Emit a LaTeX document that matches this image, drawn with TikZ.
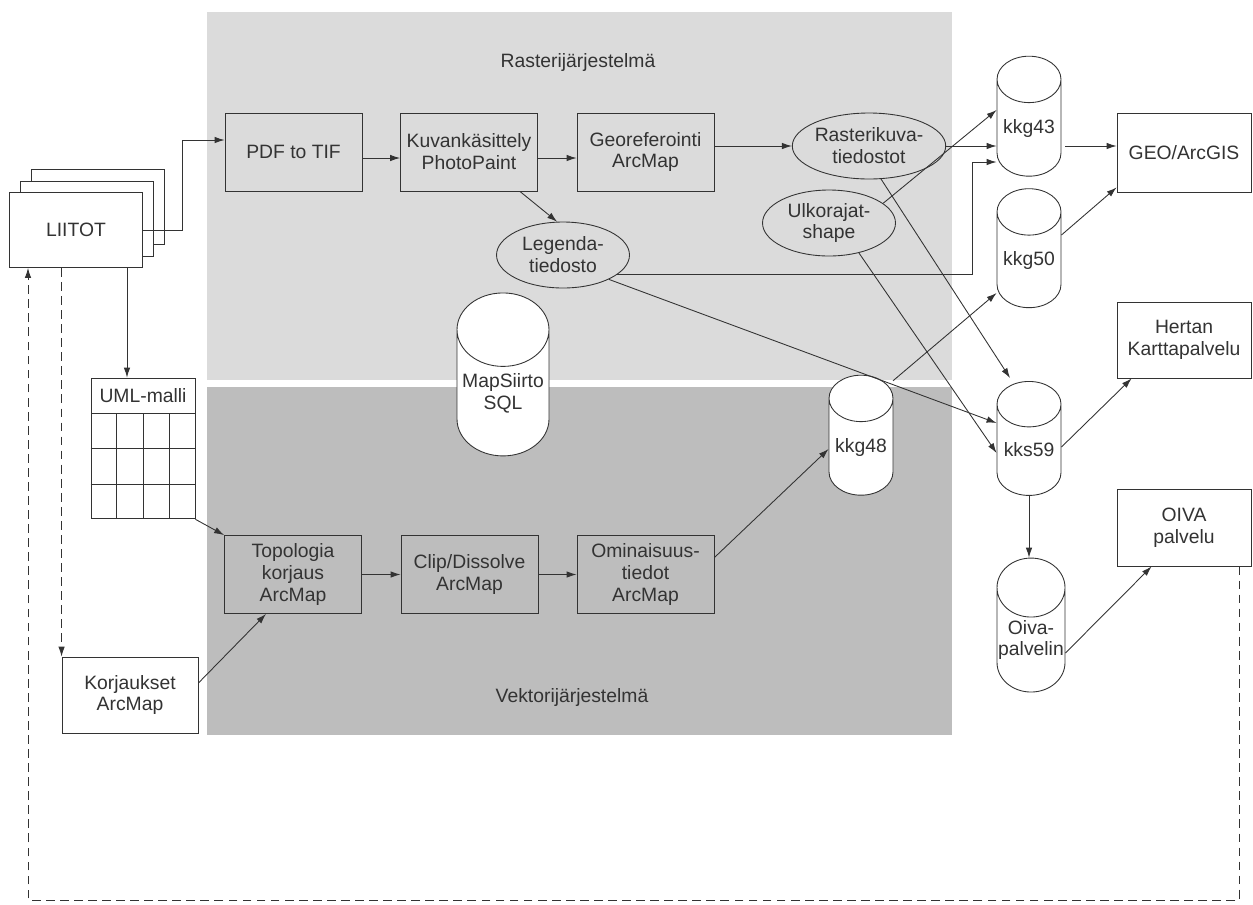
\documentclass[tikz,border=0pt]{standalone}
\usepackage{fontspec}
\setmainfont{Liberation Sans}
\usetikzlibrary{shapes.geometric, arrows.meta, calc}

\definecolor{rastgray}{gray}{0.86}
\definecolor{vectgray}{gray}{0.74}
\definecolor{ink}{gray}{0.2}

\tikzset{
  every node/.style={font=\fontsize{11}{12.5}\selectfont, text=ink},
  arr/.style={draw=ink, line width=0.5pt, -{Latex[length=2mm,width=1.3mm]}},
  dashline/.style={draw=ink, line width=0.6pt, dash pattern=on 5pt off 3pt},
  box/.style={draw=ink, line width=0.5pt, align=center, inner sep=0pt,
    minimum width=2.74cm, minimum height=1.56cm},
  wbox/.style={box, fill=white},
  oval/.style={draw=ink, line width=0.5pt, ellipse, align=center, inner sep=0pt,
    minimum width=2.66cm, minimum height=1.32cm},
  db/.style={cylinder, shape border rotate=90, aspect=0.9, draw=ink, line width=0.5pt,
    fill=white, align=center, inner sep=0pt, minimum width=1.28cm},
}

\begin{document}
\begin{tikzpicture}[x=0.02cm, y=-0.02cm]
  \useasboundingbox (0,0) rectangle (1253,904);

  % the two subsystems
  \fill[rastgray] (207,12) rectangle (952,380);
  \fill[vectgray] (207,387) rectangle (952,735);
  \node (rasthead) at (578,62) {Rasterijärjestelmä};
  \node (vecthead) at (572,697) {Vektorijärjestelmä};

  % source documents and model
  \node[wbox, minimum width=2.66cm, minimum height=1.5cm] (liitot3) at (98,207) {};
  \node[wbox, minimum width=2.66cm, minimum height=1.5cm] (liitot2) at (87,219) {};
  \node[wbox, minimum width=2.66cm, minimum height=1.5cm] (liitot) at (76,230) {LIITOT};
  \node[wbox, minimum width=2.08cm, minimum height=0.7cm] (uml) at (143,395.5) {UML-malli};
  \node[wbox, minimum width=2.08cm, minimum height=2.1cm, anchor=north] (umlgrid) at (uml.south) {};
  \foreach \i in {1,2,3}
    \draw[ink, line width=0.5pt] ($(umlgrid.north west)!\i/4!(umlgrid.north east)$)
      -- ($(umlgrid.south west)!\i/4!(umlgrid.south east)$);
  \foreach \i in {1,2}
    \draw[ink, line width=0.5pt] ($(umlgrid.north west)!\i/3!(umlgrid.south west)$)
      -- ($(umlgrid.north east)!\i/3!(umlgrid.south east)$);
  \node[wbox, minimum width=2.72cm, minimum height=1.52cm] (korj) at (130,695) {Korjaukset\\ArcMap};

  % raster side
  \node[box] (pdf) at (293.5,152) {PDF to TIF};
  \node[box] (kuva) at (469,152) {Kuvankäsittely\\PhotoPaint};
  \node[box] (georef) at (645.5,152) {Georeferointi\\ArcMap};
  \node[oval] (legenda) at (563,255) {Legenda-\\tiedosto};
  \node[oval] (rasteri) at (869,146) {Rasterikuva-\\tiedostot};
  \node[oval] (ulko) at (829,223) {Ulkorajat-\\shape};

  % vector side
  \node[db, minimum width=1.84cm, minimum height=3.26cm] (mapsiirto) at (503,393) {MapSiirto\\SQL};
  \node[box] (topo) at (293,574.5) {Topologia\\korjaus\\ArcMap};
  \node[box] (clip) at (469.5,574.5) {Clip/Dissolve\\ArcMap};
  \node[box] (omin) at (645.5,574.5) {Ominaisuus-\\tiedot\\ArcMap};
  \node[db, minimum height=2.4cm] (kkg48) at (861,447) {kkg48};

  % databases and services
  \node[db, minimum height=2.4cm] (kkg43) at (1029,128) {kkg43};
  \node[db, minimum height=2.38cm] (kkg50) at (1029,260) {kkg50};
  \node[db, minimum height=2.28cm] (kks59) at (1029,450) {kks59};
  \node[db, minimum width=1.36cm, minimum height=2.68cm] (oivapalvelin) at (1031,640) {Oiva-\\palvelin};
  \node[wbox, minimum width=2.68cm, minimum height=1.58cm] (arcgis) at (1184,152.5) {GEO/ArcGIS};
  \node[wbox, minimum width=2.68cm, minimum height=1.52cm] (hertan) at (1184,340) {Hertan\\Karttapalvelu};
  \node[wbox, minimum width=2.68cm, minimum height=1.54cm] (oiva) at (1184,527.5) {OIVA\\palvelu};

  % documents in
  \draw[arr] (liitot.east) -- ++(40,0) |- ($(pdf.west)+(0,-12)$);
  \coordinate (umlin) at ($(uml.north)+(-16,0)$);
  \draw[arr] (liitot.south -| umlin) -- (umlin);
  \draw[arr] (umlgrid.south east) -- (topo.north west);
  \draw[dashline, arr] (liitot.south -| korj.west) -- (korj.north west);

  % raster flow
  \draw[arr] ($(pdf.east)+(0,6)$) -- ($(kuva.west)+(0,6)$);
  \draw[arr] ($(kuva.east)+(0,6)$) -- ($(georef.west)+(0,6)$);
  \draw[arr] (rasteri.west -| georef.east) -- (rasteri.west);
  \draw[arr] ($(kuva.south east)+(-18,0)$) -- (legenda.100);
  \draw[arr] (rasteri.east) -- (rasteri.east -| kkg43.west);
  \draw[arr] (rasteri.-70) -- ($(kks59.north)+(-19,-3)$);
  \draw[arr] (ulko.20) -- ($(kkg43.west)+(0,-18)$);
  \draw[arr] (ulko.-45) -- ($(kks59.west)+(0,3)$);
  \draw[arr] (legenda.-20) -| ($(kkg43.west)+(-24,34)$) -- ($(kkg43.west)+(0,34)$);
  \draw[arr] (legenda.-28) -- ($(kks59.west)+(0,-27)$);

  % vector flow
  \draw[arr] (topo) -- (clip);
  \draw[arr] (clip) -- (omin);
  \draw[arr] ($(korj.east)+(0,-12)$) -- ($(topo.south)+(-27,0)$);
  \draw[arr] ($(omin.east)+(0,-17)$) -- ($(kkg48.west)+(0,2)$);
  \draw[arr] ($(kkg48.north)+(32,6)$) -- ($(kkg50.west)+(0,33)$);

  % publishing
  \draw[arr] ($(kkg43.east)+(4,18)$) coordinate (k43out) -- (k43out -| arcgis.west);
  \draw[arr] ($(kkg50.east)+(0,-25)$) -- ($(arcgis.south west)+(0,-5)$);
  \draw[arr] ($(kks59.east)+(0,-3)$) -- ($(hertan.south west)+(15,0)$);
  \draw[arr] (kks59.south) -- (kks59.south |- oivapalvelin.north);
  \draw[arr] ($(oivapalvelin.east)+(0,13)$) -- ($(oiva.south west)+(35,0)$);

  % feedback back to the documents
  \coordinate (loopr) at (1239,900);
  \coordinate (loopl) at (28,900);
  \draw[dashline, arr] (oiva.south -| loopr) -- (loopr) -- (loopl) -- (loopl |- liitot.south);
\end{tikzpicture}
\end{document}
